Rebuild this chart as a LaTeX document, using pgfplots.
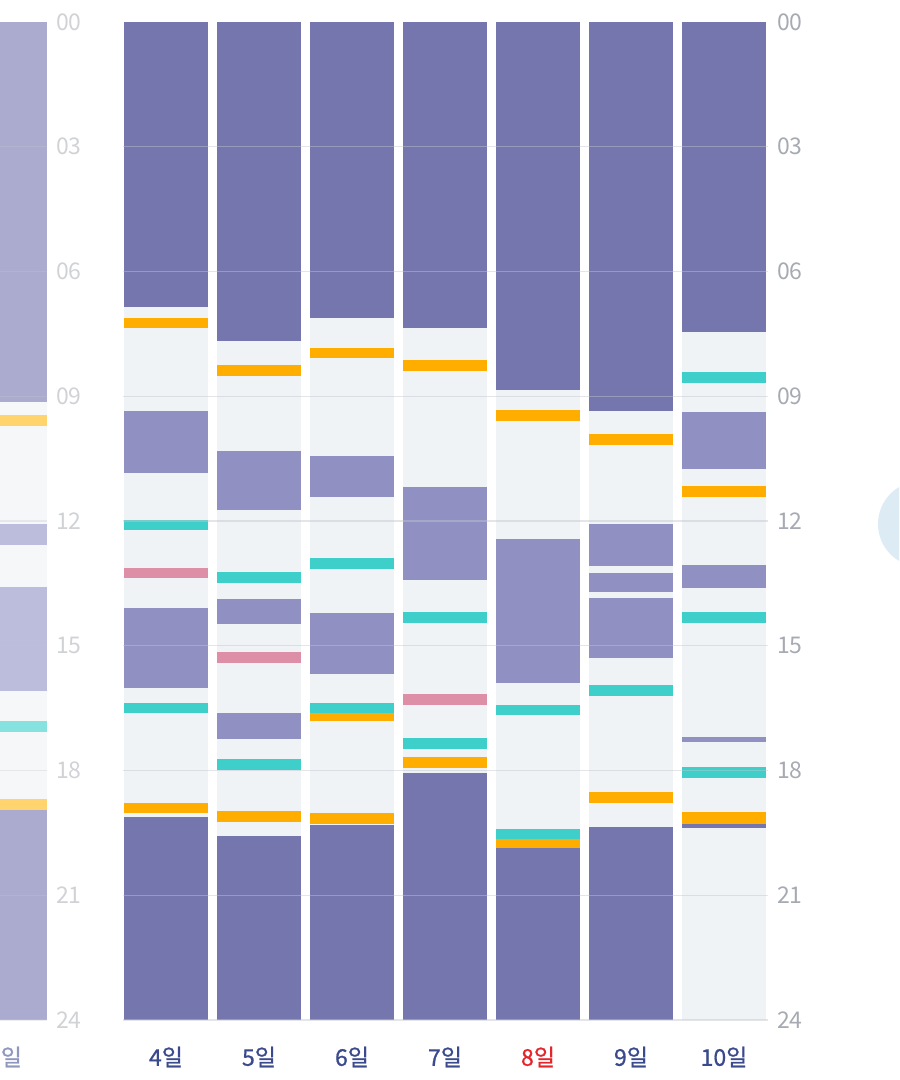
\documentclass[border=0pt]{standalone}
\usepackage{pgfplots}
\pgfplotsset{compat=1.18}
\usepackage{pgfplotstable}
\usepackage{fontspec}
\setmainfont{Noto Sans CJK KR}
\newfontfamily\daylabfont[FakeBold=0.8]{Noto Sans CJK KR}

\definecolor{night}{HTML}{7676AF}
\definecolor{nap}{HTML}{9090C3}
\definecolor{feed}{HTML}{FFAE00}
\definecolor{tealc}{HTML}{3ECFCB}
\definecolor{pinkc}{HTML}{DD8FA7}
\definecolor{bgc}{HTML}{EFF3F6}
\definecolor{nightf}{HTML}{ABABD0}
\definecolor{napf}{HTML}{BCBCDC}
\definecolor{feedf}{HTML}{FFD36E}
\definecolor{tealf}{HTML}{86E2DF}
\definecolor{bgf}{HTML}{F5F7F9}
\definecolor{gridc}{HTML}{C2C6CD}
\definecolor{ylab}{HTML}{A6AAB2}
\definecolor{ylabf}{HTML}{D0D2D6}
\definecolor{xlab}{HTML}{3B4A8C}
\definecolor{xlabf}{HTML}{8E97BE}
\definecolor{redday}{HTML}{E3262C}
\definecolor{circ}{HTML}{DDEBF5}

% x = day, s = start hour, l = length (hours)
\pgfplotstableread{
x s l
4 0 24
5 0 24
6 0 24
7 0 24
8 0 24
9 0 24
10 0 24
}\bgmain

\pgfplotstableread{
x s l
4 0 6.85
4 19.12 4.88
5 0 7.67
5 19.58 4.42
6 0 7.12
6 19.31 4.69
7 0 7.36
7 18.06 5.94
8 0 8.85
8 19.86 4.14
9 0 9.35
9 19.36 4.64
10 0 7.45
10 19.29 0.09
}\nightmain

\pgfplotstableread{
x s l
4 9.35 1.50
4 14.09 1.93
5 10.32 1.42
5 13.88 0.60
5 16.62 0.62
6 10.44 0.98
6 14.21 1.47
7 11.18 2.24
8 12.43 3.47
9 12.07 1.01
9 13.25 0.46
9 13.85 1.44
10 9.38 1.37
10 13.06 0.55
10 17.19 0.12
}\napmain

\pgfplotstableread{
x s l
4 7.12 0.24
4 18.78 0.24
5 8.25 0.26
5 18.97 0.27
6 7.84 0.24
6 16.62 0.19
6 19.02 0.27
7 8.13 0.26
7 17.68 0.26
8 9.33 0.27
8 19.65 0.21
9 9.91 0.26
9 18.52 0.26
10 11.16 0.26
10 19.00 0.29
}\feedmain

\pgfplotstableread{
x s l
4 11.98 0.24
4 16.38 0.24
5 13.23 0.26
5 17.72 0.27
6 12.89 0.26
6 16.38 0.24
7 14.19 0.26
7 17.22 0.26
8 16.43 0.24
8 19.41 0.24
9 15.94 0.27
10 8.42 0.26
10 14.19 0.26
10 17.92 0.26
}\tealmain

\pgfplotstableread{
x s l
4 13.13 0.24
5 15.15 0.27
7 16.16 0.27
}\pinkmain

% previous week, last day (3)
\pgfplotstableread{
x s l
3 0 24
}\bgleft
\pgfplotstableread{
x s l
3 0 9.14
3 18.95 5.05
}\nightleft
\pgfplotstableread{
x s l
3 12.07 0.51
3 13.59 2.50
}\napleft
\pgfplotstableread{
x s l
3 9.45 0.27
3 18.69 0.26
}\feedleft
\pgfplotstableread{
x s l
3 16.81 0.26
}\tealleft

\pgfplotsset{
  seg/.style={draw=none, mark=none, forget plot,
    error bars/.cd, y dir=plus, y explicit, error mark=none,
    error bar style={line width=42pt, draw=#1, line cap=butt}},
  daycol/.style={
    scale only axis, height=499pt, ymin=0, ymax=24, y dir=reverse,
    axis line style={draw=none}, major tick length=0pt, tick style={draw=none},
    ytick={3,6,...,24}, yticklabels={03,06,09,12,15,18,21,24},
    extra y ticks={0}, extra y tick labels={00}, extra y tick style={grid=none},
    yticklabel pos=right, ymajorgrids, axis on top,
    yticklabel style={font=\fontsize{11.5}{12}\selectfont, xshift=1pt},
    xticklabel style={font=\daylabfont\fontsize{11.5}{12}\selectfont, anchor=center, yshift=-18.5pt},
  }
}

\begin{document}
\begin{tikzpicture}
\useasboundingbox (0,0) rectangle (449.5pt,540pt);
\clip (0,0) rectangle (449.5pt,540pt);
\fill[circ] (460.5pt,278pt) circle (21.5pt);

% left (previous week) chart
\begin{axis}[daycol,
  at={(23.5pt,30pt)}, anchor=south east, width=42pt,
  xmin=2.5, xmax=3.5, xtick={3}, xticklabels={3일},
  xticklabel style={text=xlabf},
  yticklabel style={text=ylabf},
  grid style={draw=gridc, line width=0.6pt, opacity=0.3},
]
\addplot[seg=bgf] table[x=x,y=s,y error=l]{\bgleft};
\addplot[seg=nightf] table[x=x,y=s,y error=l]{\nightleft};
\addplot[seg=napf] table[x=x,y=s,y error=l]{\napleft};
\addplot[seg=feedf] table[x=x,y=s,y error=l]{\feedleft};
\addplot[seg=tealf] table[x=x,y=s,y error=l]{\tealleft};
\end{axis}

% main chart
\begin{axis}[daycol,
  at={(61.5pt,30pt)}, anchor=south west, width=322.5pt,
  xmin=3.5376, xmax=10.4731, xtick={4,...,10},
  xticklabels={4일,5일,6일,7일,\textcolor{redday}{8일},9일,10일},
  xticklabel style={text=xlab},
  yticklabel style={text=ylab},
  grid style={draw=gridc, line width=0.6pt, opacity=0.45},
]
\addplot[seg=bgc] table[x=x,y=s,y error=l]{\bgmain};
\addplot[seg=night] table[x=x,y=s,y error=l]{\nightmain};
\addplot[seg=nap] table[x=x,y=s,y error=l]{\napmain};
\addplot[seg=feed] table[x=x,y=s,y error=l]{\feedmain};
\addplot[seg=tealc] table[x=x,y=s,y error=l]{\tealmain};
\addplot[seg=pinkc] table[x=x,y=s,y error=l]{\pinkmain};
\end{axis}
\end{tikzpicture}
\end{document}
